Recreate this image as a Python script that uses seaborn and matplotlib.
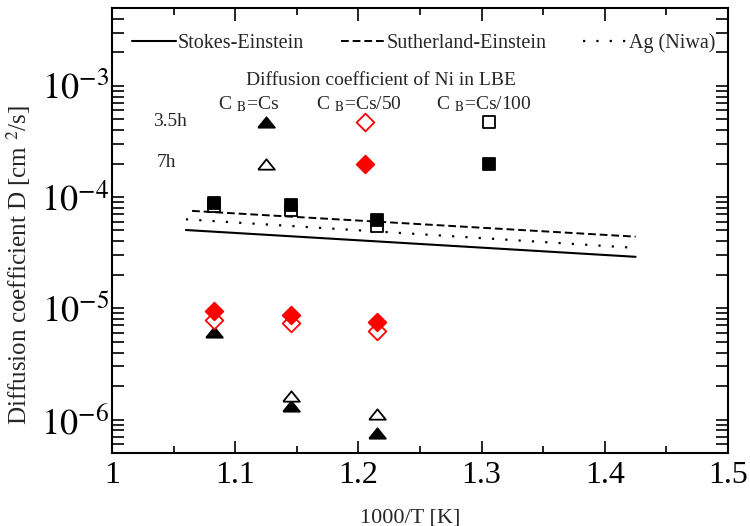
import numpy as np
import matplotlib
matplotlib.use('Agg')
import matplotlib.pyplot as plt
import seaborn as sns
from matplotlib.ticker import FixedLocator, LogLocator, NullFormatter

# 1000/T of the three test temperatures
inv_T = [1.083, 1.145, 1.215]

# measured D [cm2/s], C_B = Cs
cs_35h = [6.1e-6, 1.33e-6, 7.5e-7]
cs_7h_T = [1.145, 1.215]
cs_7h = [1.63e-6, 1.11e-6]
# C_B = Cs/50
cs50_35h = [7.8e-6, 7.3e-6, 6.3e-6]
cs50_7h = [9.4e-6, 8.7e-6, 7.5e-6]
# C_B = Cs/100
cs100_35h = [8.3e-5, 7.6e-5, 5.5e-5]
cs100_7h = [8.8e-5, 8.5e-5, 6.2e-5]

# model lines (end points)
stokes_T = [1.06, 1.425]
stokes = [5.05e-5, 2.9e-5]
suth_T = [1.065, 1.425]
suth = [7.5e-5, 4.4e-5]
niwa_T = [1.06, 1.423]
niwa = [6.3e-5, 3.5e-5]

# key markers drawn inside the plot
key_T = [1.125, 1.205, 1.306]
key_35h = 4.7e-4
key_7h = 2.0e-4

x_ticks = [1.0, 1.1, 1.2, 1.3, 1.4, 1.5]
x_ticklabels = ['1', '1.1', '1.2', '1.3', '1.4', '1.5']
y_ticks = [1e-6, 1e-5, 1e-4, 1e-3]
y_ticklabels = ['$10^{-6}$', '$10^{-5}$', '$10^{-4}$', '$10^{-3}$']

sns.set_style('ticks')
plt.rcParams['font.family'] = ['Liberation Serif', 'DejaVu Serif']
plt.rcParams['mathtext.fontset'] = 'stix'

fig, ax = plt.subplots(figsize=(7.5, 5.26), dpi=100)
fig.subplots_adjust(left=0.1493, right=0.9707, bottom=0.1388, top=0.9848)

sns.lineplot(x=stokes_T, y=stokes, ax=ax, color='black', lw=1.5, label='Stokes-Einstein')
sns.lineplot(x=suth_T, y=suth, ax=ax, color='black', lw=1.4, ls=(0, (4, 2)), label='Sutherland-Einstein')
sns.lineplot(x=niwa_T, y=niwa, ax=ax, color='black', lw=1.6, ls=(0, (1, 5)), label='Ag (Niwa)')

# squat triangle like the original (closed so the open one gets all three edges)
tri = [(-1, -0.62), (1, -0.62), (0, 0.62), (-1, -0.62)]


def pts(x, y, marker, face, edge, size):
    sns.scatterplot(x=x, y=y, ax=ax, marker=marker, s=size ** 2, color=face,
                    edgecolor=edge, linewidth=1.3, zorder=3)


# data
pts(inv_T, cs_35h, tri, 'black', 'black', 12)
pts(cs_7h_T, cs_7h, tri, 'white', 'black', 12)
pts(inv_T, cs50_35h, 'D', 'white', 'red', 9)
pts(inv_T, cs50_7h, 'D', 'red', 'red', 9)
pts(inv_T, cs100_35h, 's', 'white', 'black', 9)
pts(inv_T, cs100_7h, 's', 'black', 'black', 9)

# key
pts([key_T[0]], [key_35h], tri, 'black', 'black', 12)
pts([key_T[0]], [key_7h], tri, 'white', 'black', 12)
pts([key_T[1]], [key_35h], 'D', 'white', 'red', 9)
pts([key_T[1]], [key_7h], 'D', 'red', 'red', 9)
pts([key_T[2]], [key_35h], 's', 'white', 'black', 9)
pts([key_T[2]], [key_7h], 's', 'black', 'black', 9)

fs = 14
ax.text(0.437, 0.838, 'Diffusion coefficient of Ni in LBE', transform=ax.transAxes,
        ha='center', va='center', fontsize=fs)
ax.text(0.221, 0.784, r'C $_{\rm B}$=Cs', transform=ax.transAxes, ha='center', va='center', fontsize=fs)
ax.text(0.401, 0.784, r'C $_{\rm B}$=Cs/50', transform=ax.transAxes, ha='center', va='center', fontsize=fs)
ax.text(0.604, 0.784, r'C $_{\rm B}$=Cs/100', transform=ax.transAxes, ha='center', va='center', fontsize=fs)
ax.text(0.094, 0.744, '3.5h', transform=ax.transAxes, ha='center', va='center', fontsize=fs)
ax.text(0.089, 0.652, '7h', transform=ax.transAxes, ha='center', va='center', fontsize=fs)

ax.set_xlim(1, 1.5)
ax.set_yscale('log')
ax.set_ylim(5e-7, 5e-3)
ax.set_xticks(x_ticks)
ax.set_xticklabels(x_ticklabels)
ax.xaxis.set_minor_locator(FixedLocator([1.05, 1.15, 1.25, 1.35, 1.45]))
ax.set_yticks(y_ticks)
ax.set_yticklabels(y_ticklabels)
ax.yaxis.set_minor_locator(LogLocator(base=10, subs=np.arange(2, 10), numticks=20))
ax.yaxis.set_minor_formatter(NullFormatter())

ax.tick_params(which='both', direction='in', top=True, right=True, width=1.2, colors='black')
ax.tick_params(axis='x', which='major', length=9, labelsize=23, pad=6)
ax.tick_params(axis='x', which='minor', length=5)
ax.tick_params(axis='y', which='both', length=8.5)
ax.tick_params(axis='y', which='major', labelsize=26, pad=2)
for sp in ax.spines.values():
    sp.set_linewidth(1.5)
    sp.set_color('black')

ax.set_xlabel('1000/T [K]', fontsize=16)
ax.set_ylabel('Diffusion coefficient D [cm $^{2}$/s]', fontsize=18)
ax.xaxis.set_label_coords(0.484, -0.124)
ax.yaxis.set_label_coords(-0.128, 0.422)

handles = ax.get_lines()[:3]
ax.legend(handles=handles, labels=[h.get_label() for h in handles], loc='center left',
          bbox_to_anchor=(0.032, 0.921), ncol=3, frameon=False, fontsize=14.5,
          handlelength=2.2, handletextpad=0.1, columnspacing=1.8,
          borderaxespad=0, borderpad=0)

plt.savefig('out.png', dpi=100)
